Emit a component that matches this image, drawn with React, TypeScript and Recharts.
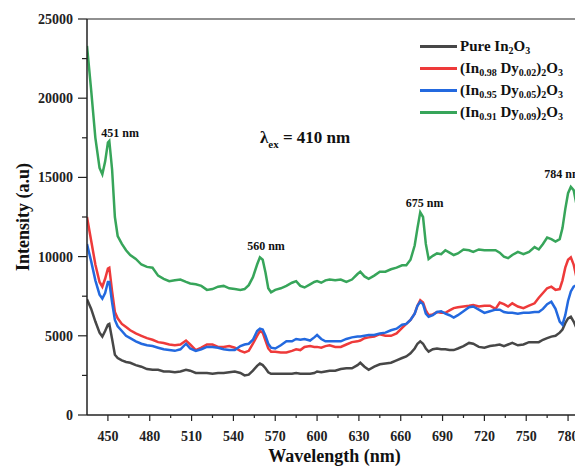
import React from 'react';
import { LineChart, Line, XAxis, YAxis, ReferenceLine, ReferenceDot } from 'recharts';

const wavelengths = [435,438,441,444,446,448,450,451,453,455,457,460,463,466,470,474,478,482,486,490,494,498,502,506,509,513,517,521,525,529,533,537,541,545,548,551,554,557,559,561,563,565,567,570,574,578,582,585,588,591,595,598,600,603,606,609,613,617,621,625,629,631,634,637,641,645,649,653,657,661,664,667,670,672,674,676,678,680,683,686,689,692,695,698,701,705,709,712,716,720,724,728,731,734,737,740,744,748,752,756,759,762,765,768,771,774,776,778,780,782,784,786,788,790];

const pure = [7300,6700,5900,5200,4950,5300,5700,5750,4800,3800,3600,3450,3350,3300,3150,3050,2900,2850,2850,2750,2750,2700,2750,2850,2800,2650,2650,2650,2600,2650,2650,2700,2750,2650,2500,2550,2800,3100,3250,3150,2950,2700,2600,2600,2600,2600,2600,2650,2600,2600,2600,2650,2750,2700,2750,2800,2800,2900,2950,2950,3150,3300,3050,2850,3050,3200,3250,3300,3450,3600,3700,3900,4200,4500,4650,4500,4200,4000,4150,4200,4150,4150,4100,4100,4200,4350,4550,4500,4300,4250,4350,4400,4450,4350,4450,4550,4400,4450,4600,4600,4600,4750,4850,4950,5000,5200,5400,5800,6100,6200,5900,5500,5300,5200];

const dy002 = [12500,11000,9500,8400,8100,8600,9250,9300,7800,6500,6100,5750,5550,5350,5150,5000,4850,4750,4600,4550,4450,4400,4450,4700,4450,4100,4250,4450,4450,4300,4300,4350,4250,4050,3950,4050,4500,5000,5300,5200,4700,4200,4000,4000,3950,3950,4050,4150,4100,4300,4350,4300,4300,4250,4350,4400,4300,4300,4450,4600,4650,4700,4850,4900,4950,5100,5000,5000,5150,5500,5750,6000,6400,6900,7250,7100,6600,6300,6350,6500,6450,6450,6600,6750,6800,6850,6900,6950,6850,6900,6900,6700,7100,7000,6850,7050,6850,6750,6900,7050,7400,7700,8000,8100,7900,7950,8500,9300,9800,9950,9500,8700,8300,8100];

const dy005 = [10800,9700,8500,7600,7350,7700,8400,8400,7100,6000,5600,5300,5000,4850,4650,4500,4400,4350,4250,4150,4100,4050,4150,4500,4200,4050,4150,4300,4300,4250,4150,4100,4100,4350,4450,4500,4750,5300,5450,5400,5000,4500,4250,4200,4400,4650,4650,4800,4750,4800,4700,4900,5050,4800,4650,4650,4650,4650,4800,4900,4950,4950,5000,5050,5050,5150,5200,5350,5450,5700,5750,6000,6400,6900,7150,7000,6400,6200,6300,6500,6550,6400,6300,6150,6300,6550,6800,6850,6650,6450,6550,6650,6650,6500,6450,6450,6400,6450,6450,6500,6500,6700,7000,7150,6700,5900,5700,6300,7200,7800,8100,8200,8000,7800];

const dy009 = [23300,20500,17500,15600,15200,16000,17200,17300,15500,12500,11300,10800,10400,10100,9850,9500,9350,9300,8800,8600,8450,8500,8550,8400,8300,8250,8150,7900,7950,8100,8150,8000,7950,7900,7950,8200,8700,9500,9950,9800,9000,8000,7750,7900,8000,8150,8350,8450,8150,8050,8250,8400,8450,8350,8500,8550,8500,8550,8400,8550,8900,9050,8750,8600,8800,9050,9050,9200,9300,9450,9450,9800,10700,11800,12800,12500,10800,9850,10050,10200,10150,10400,10250,10100,10200,10450,10400,10300,10450,10400,10400,10400,10250,10000,9900,10100,10300,10150,10300,10600,10450,10800,11200,11100,10950,11100,11800,13000,14000,14400,14200,13300,12800,12500];

const seriesNames = ['Pure', '0.02', '0.05', '0.09'];
const seriesColors = ['#474747', '#ee3a3a', '#2369df', '#37a55a'];
const xTicks = [450,465,480,495,510,525,540,555,570,585,600,615,630,645,660,675,690,705,720,735,750,765,780];
const xMajor = [450,480,510,540,570,600,630,660,690,720,750,780];
const yTicks = [0,2500,5000,7500,10000,12500,15000,17500,20000,22500,25000];
const yMajor = [0,5000,10000,15000,20000,25000];

const data = wavelengths.map((w, i) => ({
  w,
  Pure: pure[i],
  '0.02': dy002[i],
  '0.05': dy005[i],
  '0.09': dy009[i],
}));

const FONT = '"Liberation Serif", "Times New Roman", serif';

const XTick = (props: any) => {
  const { x, y, payload } = props;
  const major = xMajor.includes(payload.value);
  return (
    <g>
      <line x1={x} x2={x} y1={y} y2={y + (major ? 6 : 3)} stroke="#222" strokeWidth={1.2} />
      {major && (
        <text x={x} y={y + 26} textAnchor="middle" fontFamily={FONT} fontWeight="bold" fontSize={14} fill="#222">
          {payload.value}
        </text>
      )}
    </g>
  );
};

const YTick = (props: any) => {
  const { x, y, payload } = props;
  const major = yMajor.includes(payload.value);
  return (
    <g>
      <line x1={x} x2={x - (major ? 9 : 5)} y1={y} y2={y} stroke="#222" strokeWidth={1.2} />
      {major && (
        <text x={x - 14} y={y + 5} textAnchor="end" fontFamily={FONT} fontWeight="bold" fontSize={14} fill="#222">
          {payload.value}
        </text>
      )}
    </g>
  );
};

const Ann = (text: string) => (props: any) => {
  const vb = props.viewBox || {};
  const cx = vb.x + (vb.width || 0) / 2;
  const cy = vb.y + (vb.height || 0) / 2;
  return (
    <text x={cx} y={cy + 4} textAnchor="middle" fontFamily={FONT} fontWeight="bold" fontSize={12} fill="#111">
      {text}
    </text>
  );
};

const LambdaLabel = (props: any) => {
  const vb = props.viewBox || {};
  const cx = vb.x + (vb.width || 0) / 2;
  const cy = vb.y + (vb.height || 0) / 2;
  return (
    <text x={cx} y={cy + 5} textAnchor="middle" fontFamily={FONT} fontWeight="bold" fontSize={17} fill="#111">
      <tspan>λ</tspan>
      <tspan fontSize={11} dy={5}>ex</tspan>
      <tspan dy={-5}> = 410 nm</tspan>
    </text>
  );
};

const legendItems = [
  { color: seriesColors[0], label: <>Pure In<sub>2</sub>O<sub>3</sub></> },
  { color: seriesColors[1], label: <>(In<sub>0.98</sub> Dy<sub>0.02</sub>)<sub>2</sub>O<sub>3</sub></> },
  { color: seriesColors[2], label: <>(In<sub>0.95</sub> Dy<sub>0.05</sub>)<sub>2</sub>O<sub>3</sub></> },
  { color: seriesColors[3], label: <>(In<sub>0.91</sub> Dy<sub>0.09</sub>)<sub>2</sub>O<sub>3</sub></> },
];

const LegendBox = () => (
  <div style={{ position: 'absolute', left: 420, top: 35, fontFamily: FONT, fontWeight: 'bold', fontSize: 15, color: '#111' }}>
    {legendItems.map((it, i) => (
      <div key={i} style={{ display: 'flex', alignItems: 'center', height: 22 }}>
        <div style={{ width: 37, height: 3, background: it.color, marginRight: 3 }} />
        <span style={{ lineHeight: '15px', whiteSpace: 'nowrap' }}>{it.label}</span>
      </div>
    ))}
    <style>{`sub{font-size:10px;vertical-align:-3px;line-height:0}`}</style>
  </div>
);

export default function App() {
  return (
    <div style={{ position: 'fixed', left: 0, top: 0, width: 575, height: 475, overflow: 'hidden', background: '#fff' }}>
      <LineChart width={600} height={475} data={data} margin={{ top: 19, left: 27, right: 18, bottom: 20 }}>
        <XAxis
          dataKey="w"
          type="number"
          domain={[435, 790]}
          ticks={xTicks}
          interval={0}
          height={40}
          tickSize={0}
          tickMargin={0}
          tickLine={false}
          tick={XTick}
          axisLine={{ stroke: '#222', strokeWidth: 1.5 }}
          allowDataOverflow
          label={{
            content: (p: any) => {
              const vb = p.viewBox || {};
              return (
                <text x={vb.x + vb.width / 2} y={vb.y + 47} textAnchor="middle" fontFamily={FONT} fontWeight="bold" fontSize={18} fill="#111">
                  Wavelength (nm)
                </text>
              );
            },
          }}
        />
        <YAxis
          type="number"
          domain={[0, 25000]}
          ticks={yTicks}
          interval={0}
          width={60}
          tickSize={0}
          tickMargin={0}
          tickLine={false}
          tick={YTick}
          axisLine={{ stroke: '#222', strokeWidth: 1.5 }}
          allowDataOverflow
          label={{
            content: (p: any) => {
              const vb = p.viewBox || {};
              const cx = 23;
              const cy = vb.y + vb.height / 2;
              return (
                <text x={cx} y={cy} transform={`rotate(-90 ${cx} ${cy})`} textAnchor="middle" dominantBaseline="central" fontFamily={FONT} fontWeight="bold" fontSize={18} fill="#111">
                  Intensity (a.u)
                </text>
              );
            },
          }}
        />
        <ReferenceLine y={25000} stroke="#222" strokeWidth={1.2} />
        {seriesNames.map((k, i) => (
          <Line key={k} dataKey={k} type="linear" stroke={seriesColors[i]} strokeWidth={2.5} dot={false} isAnimationActive={false} />
        ))}
        <ReferenceDot x={458.7} y={17800} r={0} stroke="none" label={{ content: Ann('451 nm') }} />
        <ReferenceDot x={563.4} y={10670} r={0} stroke="none" label={{ content: Ann('560 nm') }} />
        <ReferenceDot x={677.1} y={13380} r={0} stroke="none" label={{ content: Ann('675 nm') }} />
        <ReferenceDot x={776.5} y={15210} r={0} stroke="none" label={{ content: Ann('784 nm') }} />
        <ReferenceDot x={591.4} y={17490} r={0} stroke="none" label={{ content: LambdaLabel }} />
      </LineChart>
      <LegendBox />
    </div>
  );
}
